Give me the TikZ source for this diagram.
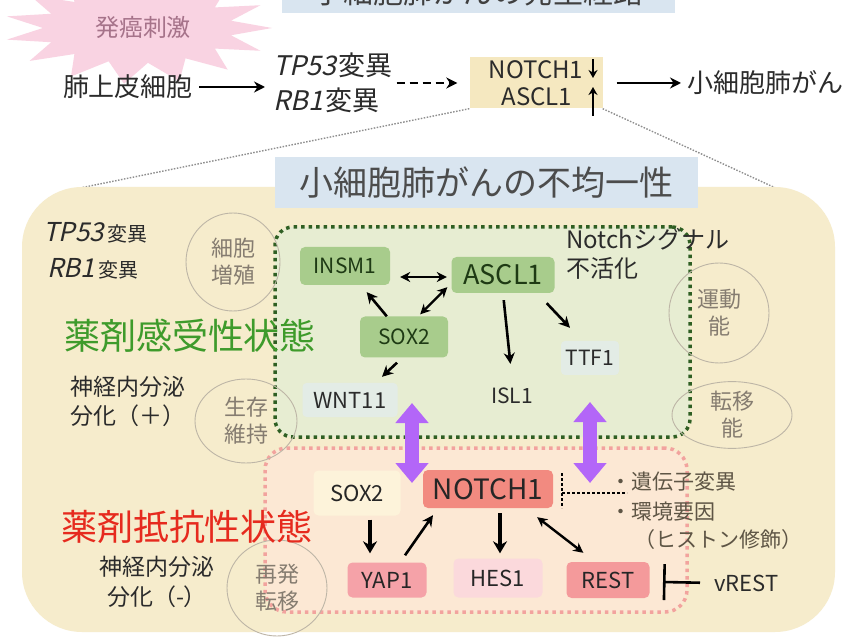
\documentclass[tikz,border=0pt]{standalone}
\usepackage{fontspec}
\setmainfont{Noto Sans CJK JP}
\newfontfamily\jpit[FakeSlant=0.22]{Noto Sans CJK JP}
\usetikzlibrary{arrows.meta,shapes.geometric}
\newcommand\myfs[2]{\fontsize{#1}{#2}\selectfont}
\definecolor{bigbg}{HTML}{F6ECCC}
\definecolor{gregion}{HTML}{E7EDD2}
\definecolor{pregion}{HTML}{FCE8D4}
\definecolor{titleblue}{HTML}{D9E5F0}
\definecolor{starpink}{HTML}{F9D3E2}
\definecolor{startext}{HTML}{A6738A}
\definecolor{topbg}{HTML}{F5E8C0}
\definecolor{gdotc}{HTML}{2F5F23}
\definecolor{pdotc}{HTML}{F2A39E}
\definecolor{gnode}{HTML}{A8CC8C}
\definecolor{gtext}{HTML}{1E3A14}
\definecolor{faintb}{HTML}{E3ECE6}
\definecolor{notchc}{HTML}{F28A80}
\definecolor{yapc}{HTML}{F5A2A8}
\definecolor{hesc}{HTML}{FBD9DC}
\definecolor{restc}{HTML}{F49A9B}
\definecolor{soxb}{HTML}{FDF3DA}
\definecolor{purp}{HTML}{B366F8}
\definecolor{circg}{HTML}{BDB5A6}
\definecolor{circt}{HTML}{857C70}
\definecolor{gstate}{HTML}{3E9B2B}
\definecolor{rstate}{HTML}{E62A1E}
\definecolor{factc}{HTML}{5E5545}
\definecolor{txt}{HTML}{2B2B2B}
\definecolor{greyline}{HTML}{8E8E8E}
\tikzset{
  arr/.style={line width=2.6pt, draw=black, -{Stealth[length=11pt,width=11pt]}},
  darr/.style={line width=2.4pt, draw=black, {Stealth[length=10pt,width=10pt]}-{Stealth[length=10pt,width=10pt]}},
  barr/.style={line width=3.2pt, draw=black, -{Stealth[length=12pt,width=14pt]}},
  gbox/.style={rounded corners=5pt, fill=gnode, text=gtext, inner sep=0pt},
  pbox/.style={rounded corners=5pt, text=black!85, inner sep=0pt},
  faint/.style={rounded corners=4pt, fill=faintb, text=txt, inner sep=0pt},
  circ/.style={ellipse, draw=circg, line width=0.9pt, align=center, text=circt, font=\myfs{22}{27}, inner sep=0pt},
  purpar/.style={line width=14pt, draw=purp, {Triangle[width=32pt,length=20pt]}-{Triangle[width=32pt,length=20pt]}},
  gdot/.style={draw=gdotc, line width=3.5pt, dash pattern=on 3.5pt off 4pt},
  pdot/.style={draw=pdotc, line width=3.5pt, dash pattern=on 3.5pt off 4pt},
  lbl/.style={inner sep=0pt, text=txt},
}
\begin{document}
\begin{tikzpicture}[x=1pt,y=-1pt]
\useasboundingbox (0,0) rectangle (847,639);
\fill[white] (0,0) rectangle (847,639);

% star burst
\fill[starpink] plot[samples at={0,...,29}] ({138+ifthenelse(mod(\x,2)==0,134,95)*cos(\x*12)}, {28+ifthenelse(mod(\x,2)==0,56,35)*sin(\x*12)}) -- cycle;
\node[lbl, text=startext, font=\myfs{24}{24}] (stim) at (143,27) {発癌刺激};

% top banner (cut off)
\fill[titleblue] (282,-5) rectangle (675,13);
\node[lbl, anchor=base, font=\myfs{30}{30}, text=black!75] (banner) at (478,4) {小細胞肺がんの発生経路};

% top row
\node[lbl, font=\myfs{26}{26}] (lung) at (128,87) {肺上皮細胞};
\node[lbl, anchor=west, align=left, font=\myfs{27}{35}] (mut) at (273,83) {{\jpit TP53}\hspace{2pt}変異\\{\jpit RB1}\hspace{2pt}変異};
\node[fill=topbg, minimum width=133, minimum height=51, inner sep=0pt] (topbox) at (536,83) {};
\node[lbl, font=\myfs{24}{24}] (tnotch) at (536,70) {NOTCH1};
\node[lbl, font=\myfs{24}{24}] (tascl) at (537,97) {ASCL1};
\coordinate (dnA) at (593,59); \coordinate (dnB) at (593,78);
\coordinate (upA) at (593,116); \coordinate (upB) at (593,87);
\draw[line width=2.4pt, -{Stealth[length=8pt,width=9pt]}] (dnA) -- (dnB);
\draw[line width=2.4pt, -{Stealth[length=8pt,width=9pt]}] (upA) -- (upB);
\node[lbl, anchor=west, font=\myfs{26}{26}] (sclc) at (687,83) {小細胞肺がん};
\draw[arr, shorten <=6pt, shorten >=8pt] (lung) -- (mut.west |- lung);
\draw[arr, dash pattern=on 8pt off 5pt, shorten <=4pt, shorten >=12pt] (mut.east |- topbox) -- (topbox.west);
\draw[arr, shorten <=14pt, shorten >=6pt] (topbox.east) -- (sclc.west);

% zoom lines
\coordinate (zl) at (80,188);
\coordinate (zr) at (780,190);
\draw[greyline, line width=1.4pt, dash pattern=on 1.5pt off 1.5pt] (topbox.south west) -- (zl);
\draw[greyline, line width=1.4pt, dash pattern=on 1.5pt off 1.5pt] (topbox.south east) -- (zr);

% big region
\node[fill=bigbg, rounded corners=60pt, minimum width=813, minimum height=445, inner sep=0pt] (big) at (428.5,409.5) {};
\node[fill=titleblue, minimum width=423, minimum height=51, inner sep=0pt, font=\myfs{34}{34}, text=black!70] (title) at (486.5,182.5) {小細胞肺がんの不均一性};

% state regions
\node[gdot, fill=gregion, rounded corners=18pt, minimum width=415, minimum height=210, inner sep=0pt] (greg) at (482.5,332) {};
\node[pdot, fill=pregion, rounded corners=22pt, minimum width=422, minimum height=164, inner sep=0pt] (preg) at (476,530) {};

% circles
\node[circ, minimum width=94, minimum height=98] (c1) at (233,262) {細胞\\増殖};
\node[circ, minimum width=100, minimum height=100] (c2) at (719,313) {運動\\能};
\node[circ, minimum width=102, minimum height=84] (c3) at (246,421) {生存\\維持};
\node[circ, minimum width=120, minimum height=66] (c4) at (732,415) {転移\\能};
\node[circ, minimum width=100, minimum height=96] (c5) at (277,588) {再発\\転移};

% sensitive-state genes
\node[gbox, minimum width=90, minimum height=38, font=\myfs{21}{21}] (insm) at (345,266) {INSM1};
\node[gbox, minimum width=103, minimum height=36, font=\myfs{27}{27}] (ascl) at (503,275) {ASCL1};
\node[gbox, minimum width=88, minimum height=41, font=\myfs{21}{21}] (sox) at (404,337) {SOX2};
\node[faint, minimum width=95, minimum height=34, font=\myfs{22}{22}] (wnt) at (350,400) {WNT11};
\node[lbl, minimum width=60, minimum height=34, font=\myfs{21}{21}] (isl) at (512,396) {ISL1};
\node[faint, minimum width=58, minimum height=34, font=\myfs{21}{21}] (ttf) at (590,358) {TTF1};
\node[lbl, anchor=north west, align=left, font=\myfs{24}{29}] (nsig) at (566,228) {Notchシグナル\\不活化};

\draw[darr, shorten <=10pt, shorten >=4.5pt] ([yshift=-11pt]insm.east) -- ([yshift=-2pt]ascl.west);
\draw[darr] ([xshift=-4pt,yshift=6pt]ascl.south west) -- ([xshift=-28pt,yshift=2pt]sox.north east);
\draw[arr, shorten >=9pt] (sox) -- (insm);
\draw[arr] ([xshift=-7pt,yshift=-5pt]sox.south) -- ([xshift=32pt,yshift=6pt]wnt.north);
\draw[arr, shorten <=7pt, shorten >=15pt] (ascl.south) -- (isl.north);
\draw[arr] ([xshift=-8pt,yshift=-10pt]ascl.south east) -- ([xshift=-20pt,yshift=13pt]ttf.north);

% purple double arrows
\coordinate (p1a) at (412,403); \coordinate (p1b) at (412,483);
\coordinate (p2a) at (590,402); \coordinate (p2b) at (590,483);
\draw[purpar] (p1a) -- (p1b);
\draw[purpar] (p2a) -- (p2b);

% resistant-state genes
\node[pbox, fill=soxb, minimum width=87, minimum height=45, font=\myfs{22}{22}] (soxr) at (357,493) {SOX2};
\node[pbox, fill=notchc, minimum width=130, minimum height=38, font=\myfs{28}{28}] (notch) at (488,489) {NOTCH1};
\node[pbox, fill=yapc, minimum width=79, minimum height=35, font=\myfs{22}{22}] (yap) at (387,580) {YAP1};
\node[pbox, fill=hesc, minimum width=89, minimum height=39, font=\myfs{22}{22}] (hes) at (498,578) {HES1};
\node[pbox, fill=restc, minimum width=83, minimum height=36, font=\myfs{22}{22}] (rest) at (608,580) {REST};
\node[lbl, anchor=west, font=\myfs{22}{22}] (vrest) at (714,583) {vREST};

\draw[barr, shorten <=4pt, shorten >=9pt] ([xshift=13pt]soxr.south) -- ([xshift=-17pt]yap.north);
\draw[arr] ([xshift=18pt,yshift=7pt]yap.north) -- ([xshift=-55pt,yshift=-7pt]notch.south);
\draw[barr, shorten <=5pt, shorten >=5pt] ([xshift=12pt]notch.south) -- ([xshift=2pt]hes.north);
\draw[darr] ([xshift=-16pt,yshift=-9pt]notch.south east) -- ([xshift=17pt,yshift=9pt]rest.north west);
\coordinate (inh) at (663,582);
\draw[line width=2.6pt, -{Bar[width=36pt,line width=2.6pt]}, shorten <=14pt] (vrest.west) -- (inh);

% factors
\coordinate (b1) at (562,473); \coordinate (b2) at (562,508);
\coordinate (b3) at (562,493); \coordinate (b4) at (627,493);
\draw[black, line width=2.5pt, dash pattern=on 2.5pt off 2.5pt] (b1) -- (b2);
\draw[black, line width=2.5pt, dash pattern=on 2.5pt off 2.5pt] (b3) -- (b4);
\node[lbl, anchor=west, text=factc, font=\myfs{21}{21}] (f1) at (610,482) {・遺伝子変異};
\node[lbl, anchor=west, text=factc, font=\myfs{21}{21}] (f2) at (610,512) {・環境要因};
\node[lbl, anchor=west, text=factc, font=\myfs{21}{21}] (f3) at (634,540) {（ヒストン修飾）};

% left texts
\node[lbl, anchor=base west, font=\myfs{26}{26}] (tp) at (43,242) {{\jpit TP53}\hspace{3pt}{\myfs{20}{20}変異}};
\node[lbl, anchor=base west, font=\myfs{26}{26}] (rb) at (47,278) {{\jpit RB1}\hspace{3pt}{\myfs{20}{20}変異}};
\node[lbl, text=gstate, font=\myfs{36}{36}] (sens) at (190,336) {薬剤感受性状態};
\node[lbl, anchor=west, align=left, font=\myfs{23}{29}] (nep) at (70,401) {神経内分泌\\分化（＋）};
\node[lbl, text=rstate, font=\myfs{36}{36}] (resi) at (187,527) {薬剤抵抗性状態};
\node[lbl, align=center, font=\myfs{23}{30}] (nem) at (157,582) {神経内分泌\\分化（-）};
\end{tikzpicture}
\end{document}
